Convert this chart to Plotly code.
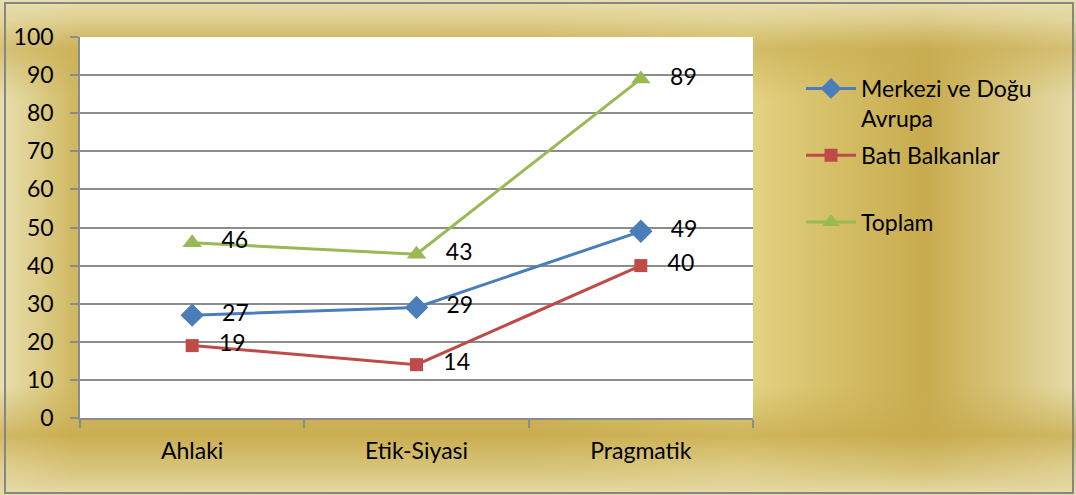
import base64
import plotly.graph_objects as go

categories = ["Ahlaki", "Etik-Siyasi", "Pragmatik"]
merkezi = [27, 29, 49]
bati = [19, 14, 40]
toplam = [46, 43, 89]
y_ticks = list(range(0, 101, 10))

W, H = 1076, 495
L, R, T, B = 80, 323, 37, 77
pw, ph = W - L - R, H - T - B
TOP = T + ph  # pixel y of paper y=0


def py(ypx):
    return (TOP - ypx) / ph


def px(xpx):
    return (xpx - L) / pw


svg = f'''<svg xmlns="http://www.w3.org/2000/svg" width="{W}" height="{H}" viewBox="0 0 {W} {H}" preserveAspectRatio="none">
<defs>
<linearGradient id="h" x1="0" y1="0" x2="1" y2="0">
<stop offset="0" stop-color="#e8dfb0"/>
<stop offset="0.03" stop-color="#dfd08f"/>
<stop offset="0.07" stop-color="#d0b862"/>
<stop offset="0.5" stop-color="#d0b65e"/>
<stop offset="0.69" stop-color="#e4d587"/>
<stop offset="0.76" stop-color="#d8c26c"/>
<stop offset="0.86" stop-color="#c8ab4e"/>
<stop offset="0.94" stop-color="#d9c67e"/>
<stop offset="1" stop-color="#e6dcaa"/>
</linearGradient>
<linearGradient id="v" x1="0" y1="0" x2="0" y2="1">
<stop offset="0" stop-color="#e8dfb0" stop-opacity="1"/>
<stop offset="0.04" stop-color="#e2d59c" stop-opacity="0.8"/>
<stop offset="0.1" stop-color="#c9ad52" stop-opacity="0.6"/>
<stop offset="0.2" stop-color="#c9ad52" stop-opacity="0"/>
<stop offset="0.78" stop-color="#c9ad52" stop-opacity="0"/>
<stop offset="0.88" stop-color="#c8aa4c" stop-opacity="0.75"/>
<stop offset="0.95" stop-color="#dccb88" stop-opacity="0.7"/>
<stop offset="1" stop-color="#e6dcaa" stop-opacity="1"/>
</linearGradient>
</defs>
<rect x="0" y="0" width="{W}" height="{H}" fill="url(#h)"/>
<rect x="0" y="0" width="{W}" height="{H}" fill="url(#v)"/>
</svg>'''
bg_uri = "data:image/svg+xml;base64," + base64.b64encode(svg.encode()).decode()

FONT = "Lato"
FS = 23
fig = go.Figure()

series = [
    ("Merkezi ve Doğu<br>Avrupa", merkezi, "#4a7ebb", "diamond", 18),
    ("Batı Balkanlar<br> ", bati, "#be4b48", "square", 13),
    ("Toplam", toplam, "#98b954", "triangle-up", 17),
]
for i, (name, vals, col, sym, sz) in enumerate(series):
    fig.add_trace(go.Scatter(
        x=categories, y=vals, name=name, mode="lines+markers+text",
        line=dict(color=col, width=3),
        marker=dict(symbol=sym, size=sz, color=col, line=dict(width=0)),
        text=["   " + str(v) for v in vals],
        textposition="middle right",
        textfont=dict(family=FONT, size=FS, color="black"),
        cliponaxis=False,
        legendgroup=f"g{i}",
    ))

fig.update_layout(
    width=W, height=H,
    margin=dict(l=L, r=R, t=T, b=B),
    paper_bgcolor="#d6bd64",
    plot_bgcolor="rgba(0,0,0,0)",
    font=dict(family=FONT, size=FS, color="black"),
    images=[dict(
        source=bg_uri, xref="paper", yref="paper",
        x=px(0), y=py(0), sizex=W / pw, sizey=H / ph,
        sizing="stretch", xanchor="left", yanchor="top", layer="below",
    )],
    shapes=[
        dict(type="rect", xref="paper", yref="paper", x0=0, x1=1, y0=0, y1=1,
             fillcolor="white", line=dict(width=0), layer="below"),
        dict(type="rect", xref="paper", yref="paper",
             x0=px(5), x1=px(1073), y0=py(493), y1=py(3),
             line=dict(color="#868686", width=2), fillcolor="rgba(0,0,0,0)", layer="above"),
    ],
    xaxis=dict(
        type="category", range=[-0.5, 2.5], tickson="boundaries",
        ticks="outside", ticklen=8, tickcolor="#8c8c8c", tickwidth=1.5,
        showline=True, linecolor="#8c8c8c", linewidth=1.5,
        showgrid=False, ticklabelstandoff=12, zeroline=False,
    ),
    yaxis=dict(
        range=[0, 100], tickvals=y_ticks, ticks="outside", ticklen=8,
        tickcolor="#8c8c8c", tickwidth=1.5,
        showline=True, linecolor="#8c8c8c", linewidth=1.5,
        showgrid=True, gridcolor="#8c8c8c", gridwidth=1.5,
        zeroline=False, ticklabelstandoff=12,
    ),
    legend=dict(
        x=px(801), y=py(67), xanchor="left", yanchor="top",
        bgcolor="rgba(0,0,0,0)", valign="top", itemwidth=50,
        font=dict(family=FONT, size=FS, color="black"),
        tracegroupgap=4,
    ),
    showlegend=True,
)

fig.write_html(
    "out.html",
    config={"displayModeBar": False},
    post_script="document.body.style.margin='0';document.body.style.overflow='hidden';",
)
